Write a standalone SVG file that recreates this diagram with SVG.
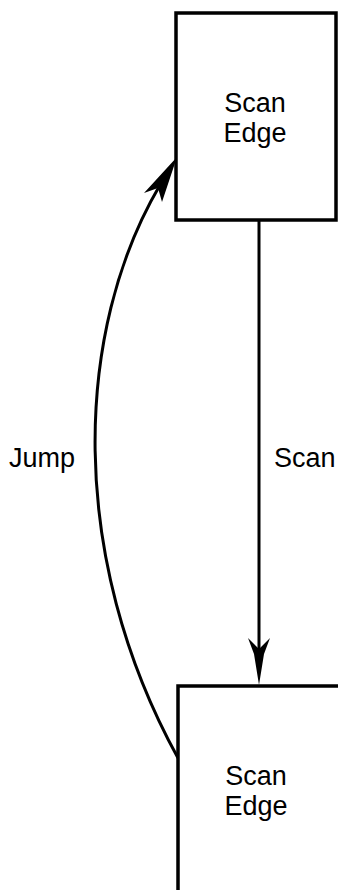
<svg xmlns="http://www.w3.org/2000/svg" width="338" height="890" viewBox="0 0 338 890">
<style>
.box{fill:#fff;stroke:#000;stroke-width:3.5}
.t{font-family:"Liberation Sans",Arial,sans-serif;font-size:27px;fill:#000}
.c{text-anchor:middle}
.ln{fill:none;stroke:#000;stroke-width:3}
.ah{fill:#000;stroke:none}
</style>
<rect width="338" height="890" fill="#fff"/>
<g id="connectors">
<g id="scan">
<line class="ln" x1="259" y1="220" x2="259" y2="660"/>
<polygon class="ah" points="259,685 254,654 248,638 259,649 270,638 264,654"/>
<text class="t" x="274" y="467">Scan</text>
</g>
<g id="jump">
<path class="ln" d="M178,758 C67,556 74,331 160,185"/>
<polygon class="ah" points="177,157 162,202 158,188 144,193"/>
<text class="t" x="9" y="467">Jump</text>
</g>
</g>
<g id="node-top">
<rect class="box" x="176" y="13" width="160" height="207"/>
<text class="t c" x="255" y="112">Scan</text>
<text class="t c" x="255" y="142">Edge</text>
</g>
<g id="node-bottom">
<rect class="box" x="178" y="686" width="162" height="220"/>
<text class="t c" x="256" y="785">Scan</text>
<text class="t c" x="256" y="815">Edge</text>
</g>
</svg>
